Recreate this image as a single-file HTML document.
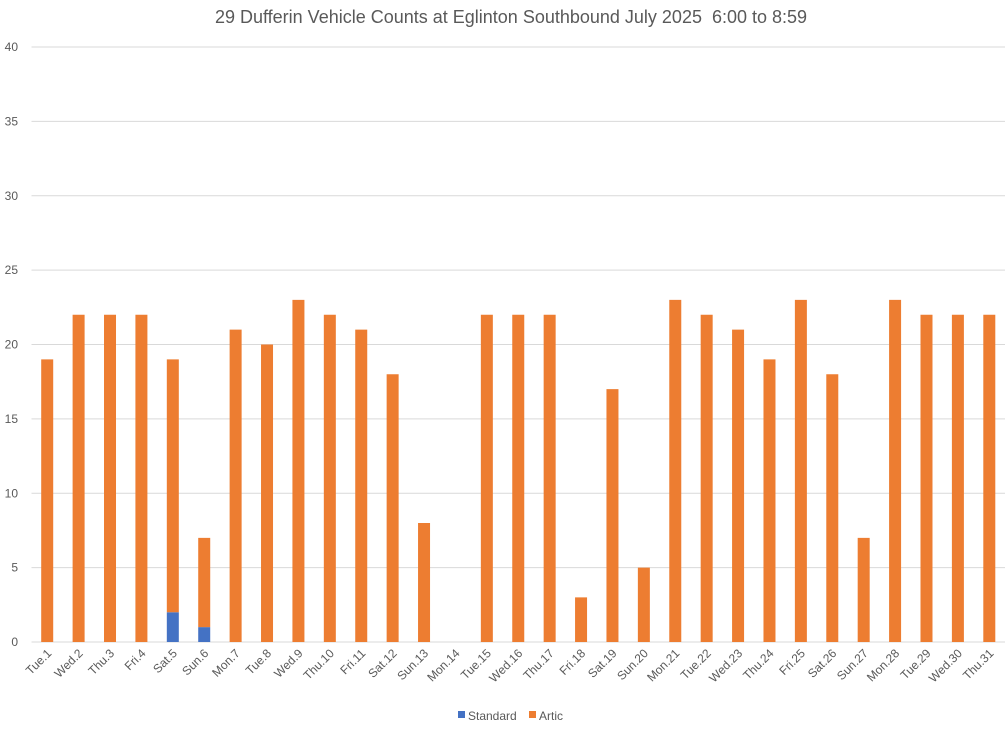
<!DOCTYPE html>
<html><head><meta charset="utf-8"><style>
body{margin:0;background:#fff;}
svg text{font-family:"Liberation Sans",Arial,sans-serif;fill:#595959;}
</style></head><body>
<svg id="chart" width="1006" height="725">
<text x="511" y="23" font-size="18" text-anchor="middle" style="white-space:pre">29 Dufferin Vehicle Counts at Eglinton Southbound July 2025  6:00 to 8:59</text>
<g id="grid"></g><g id="bars"></g><g id="xlabels"></g>
<g>
<rect x="458" y="711" width="7" height="7" fill="#4472c4"/>
<text x="468" y="720" font-size="12">Standard</text>
<rect x="529" y="711" width="7" height="7" fill="#ed7d31"/>
<text x="539" y="720" font-size="12">Artic</text>
</g>
</svg>
<script>
const categories=["Tue.1","Wed.2","Thu.3","Fri.4","Sat.5","Sun.6","Mon.7","Tue.8","Wed.9","Thu.10","Fri.11","Sat.12","Sun.13","Mon.14","Tue.15","Wed.16","Thu.17","Fri.18","Sat.19","Sun.20","Mon.21","Tue.22","Wed.23","Thu.24","Fri.25","Sat.26","Sun.27","Mon.28","Tue.29","Wed.30","Thu.31"];
const standard=[0,0,0,0,2,1,0,0,0,0,0,0,0,0,0,0,0,0,0,0,0,0,0,0,0,0,0,0,0,0,0];
const artic=[19,22,22,22,17,6,21,20,23,22,21,18,8,0,22,22,22,3,17,5,23,22,21,19,23,18,7,23,22,22,22];
const yTicks=[0,5,10,15,20,25,30,35,40];
const NS="http://www.w3.org/2000/svg";
const L=31.5,R=1005,T=47,B=642,yMax=40;
const step=(R-L)/categories.length;
const y=v=>B-(v/yMax)*(B-T);
const xc=i=>L+step*(i+0.5);
function mk(tag,attrs,parent){const e=document.createElementNS(NS,tag);for(const k in attrs)e.setAttribute(k,attrs[k]);parent.appendChild(e);return e;}
const grid=document.getElementById('grid'),bars=document.getElementById('bars'),xl=document.getElementById('xlabels');
yTicks.forEach(t=>{
 const l=mk('line',{x1:L,x2:R,y1:y(t),y2:y(t),stroke:'#d9d9d9','stroke-width':1},grid);
 
 
 const tx=mk('text',{x:18,y:y(t)+4,'font-size':12,'text-anchor':'end'},grid);
 tx.textContent=t;
 
 
});
categories.forEach((c,i)=>{
 const x=xc(i)-6;
 const s=mk('rect',{x:x,y:y(standard[i]),width:12,height:B-y(standard[i]),fill:'#4472c4'},bars);
 
 
 const a=mk('rect',{x:x,y:y(standard[i]+artic[i]),width:12,height:y(standard[i])-y(standard[i]+artic[i]),fill:'#ed7d31'},bars);
 
 
 const t=mk('text',{x:0,y:0,'font-size':12,'text-anchor':'end',transform:`translate(${xc(i)+5},${B+12}) rotate(-45)`},xl);
 t.textContent=c;
 
 
});
</script>
</body></html>
